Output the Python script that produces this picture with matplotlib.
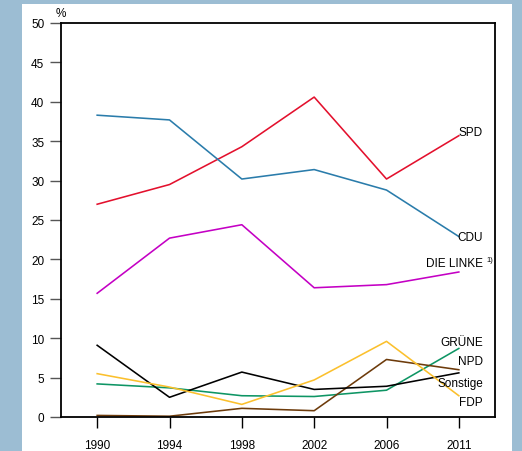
import matplotlib.pyplot as plt
from matplotlib.patches import Rectangle

plt.rcParams["font.family"] = ["Liberation Sans", "DejaVu Sans"]

years = ["1990", "1994", "1998", "2002", "2006", "2011"]
spd = [27.0, 29.5, 34.3, 40.6, 30.2, 35.7]
cdu = [38.3, 37.7, 30.2, 31.4, 28.8, 22.9]
linke = [15.7, 22.7, 24.4, 16.4, 16.8, 18.4]
gruene = [4.2, 3.7, 2.7, 2.6, 3.4, 8.7]
npd = [0.2, 0.1, 1.1, 0.8, 7.3, 6.0]
sonstige = [9.1, 2.5, 5.7, 3.5, 3.9, 5.6]
fdp = [5.5, 3.8, 1.6, 4.7, 9.6, 2.7]

series = [
    ("SPD", spd, "#e3102d", 133),
    ("CDU", cdu, "#2a7cab", 238),
    ("DIE LINKE", linke, "#c400c4", 264),
    ("GRÜNE", gruene, "#0e9564", 343),
    ("NPD", npd, "#6d3b0b", 362),
    ("Sonstige", sonstige, "#000000", 384),
    ("FDP", fdp, "#fbc02d", 403),
]

W, H = 522, 452
fig = plt.figure(figsize=(W / 100, H / 100), dpi=100)
fig.patch.set_facecolor("#9cbdd3")
bg = Rectangle((22 / W, 0), (512 - 22) / W, (H - 5) / H,
               transform=fig.transFigure, facecolor="white",
               edgecolor="none", zorder=-10)
fig.add_artist(bg)

ax = fig.add_axes([61 / W, (H - 418) / H, (495 - 61) / W, (418 - 24) / H])
ax.set_zorder(5)
x = list(range(len(years)))
for name, vals, color, _ in series:
    ax.plot(x, vals, color=color, lw=1.15)

ax.set_xlim(-0.5, 5.5)
ax.set_ylim(0, 50)
ax.set_xticks(x)
ax.set_xticklabels(years)
ax.set_yticks(range(0, 51, 5))
ax.tick_params(direction="out", length=8, width=1, labelsize=8.5)
ax.tick_params(axis="y", colors="#555555", labelcolor="black", pad=4)
ax.tick_params(axis="x", colors="black", pad=7.5)
for sp in ax.spines.values():
    sp.set_linewidth(1.3)

for name, vals, color, ypix in series:
    fig.text(483 / W, 1 - ypix / H, name, ha="right", va="center",
             fontsize=8.5, zorder=10)
fig.text(486 / W, 1 - 261 / H, "1)", ha="left", va="center", fontsize=5.5,
         zorder=10)
fig.text(61 / W, 1 - 14 / H, "%", ha="center", va="center", fontsize=8.5,
         zorder=10)

fig.savefig("out.png", dpi=100, facecolor=fig.get_facecolor())
